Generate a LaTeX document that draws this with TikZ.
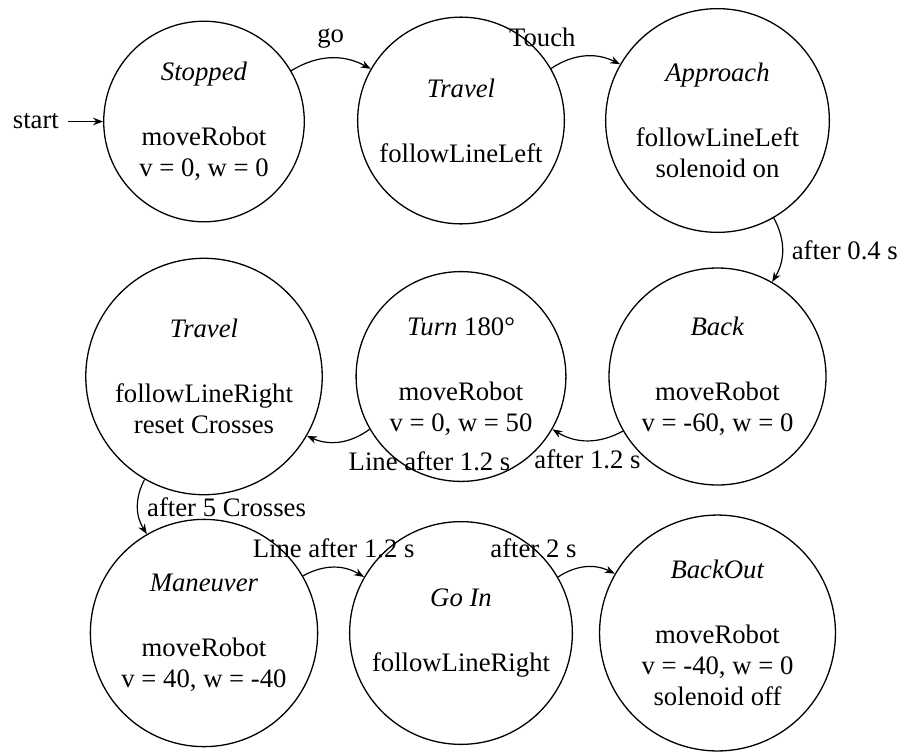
\documentclass[tikz,border=0pt]{standalone}
\usepackage{fontspec}
\setmainfont{Liberation Serif}
\usetikzlibrary{arrows.meta}
\begin{document}
\begin{tikzpicture}[x=1pt,y=-1pt,
  every node/.style={font=\fontsize{26.7}{31}\selectfont},
  stnode/.style={circle, draw, line width=1.3pt, align=center, inner sep=8.9pt},
  trans/.style={->, line width=1.2pt},
  lbl/.style={inner sep=8.9pt},
  >={Stealth[length=10pt,width=7.5pt]}]
\useasboundingbox (0,0) rectangle (899,753);
\node[stnode, minimum size=198pt] (s1) at (204,121.5) {\textit{Stopped}\\[34pt]moveRobot\\v = 0, w = 0};
\node[stnode] (s2) at (461,120.5) {\textit{Travel}\\[34pt]followLineLeft};
\node[stnode] (s3) at (717.5,120.5) {\textit{Approach}\\[34pt]followLineLeft\\solenoid on};
\node[stnode] (s4) at (204,376.5) {\textit{Travel}\\[34pt]followLineRight\\reset Crosses};
\node[stnode] (s5) at (461,376.5) {\textit{Turn} 180°\\[34pt]moveRobot\\v = 0, w = 50};
\node[stnode] (s6) at (717.5,376.5) {\textit{Back}\\[34pt]moveRobot\\v = -60, w = 0};
\node[stnode] (s7) at (204,633) {\textit{Maneuver}\\[34pt]moveRobot\\v = 40, w = -40};
\node[stnode] (s8) at (461,633) {\textit{Go In}\\[34pt]followLineRight};
\node[stnode] (s9) at (717.5,633) {\textit{BackOut}\\[34pt]moveRobot\\v = -40, w = 0\\solenoid off};
\node[lbl, anchor=east] (st) at (68,121.5) {start};
\draw[trans] (st) -- (s1);
\draw[trans] (s1) to[bend left] node[lbl, above] {go} (s2);
\draw[trans] (s2) to[bend left] node[lbl, above left] {Touch} (s3);
\draw[trans] (s3) to[bend left] node[lbl, right] {after 0.4 s} (s6);
\draw[trans] (s6) to[bend left] node[lbl, below] {after 1.2 s} (s5);
\draw[trans] (s5) to[bend left] node[lbl, below right] {Line after 1.2 s} (s4);
\draw[trans] (s4) to[bend right] node[lbl, right] {after 5 Crosses} (s7);
\draw[trans] (s7) to[bend left] node[lbl, above] {Line after 1.2 s} (s8);
\draw[trans] (s8) to[bend left] node[lbl, above left] {after 2 s} (s9);
\end{tikzpicture}
\end{document}
